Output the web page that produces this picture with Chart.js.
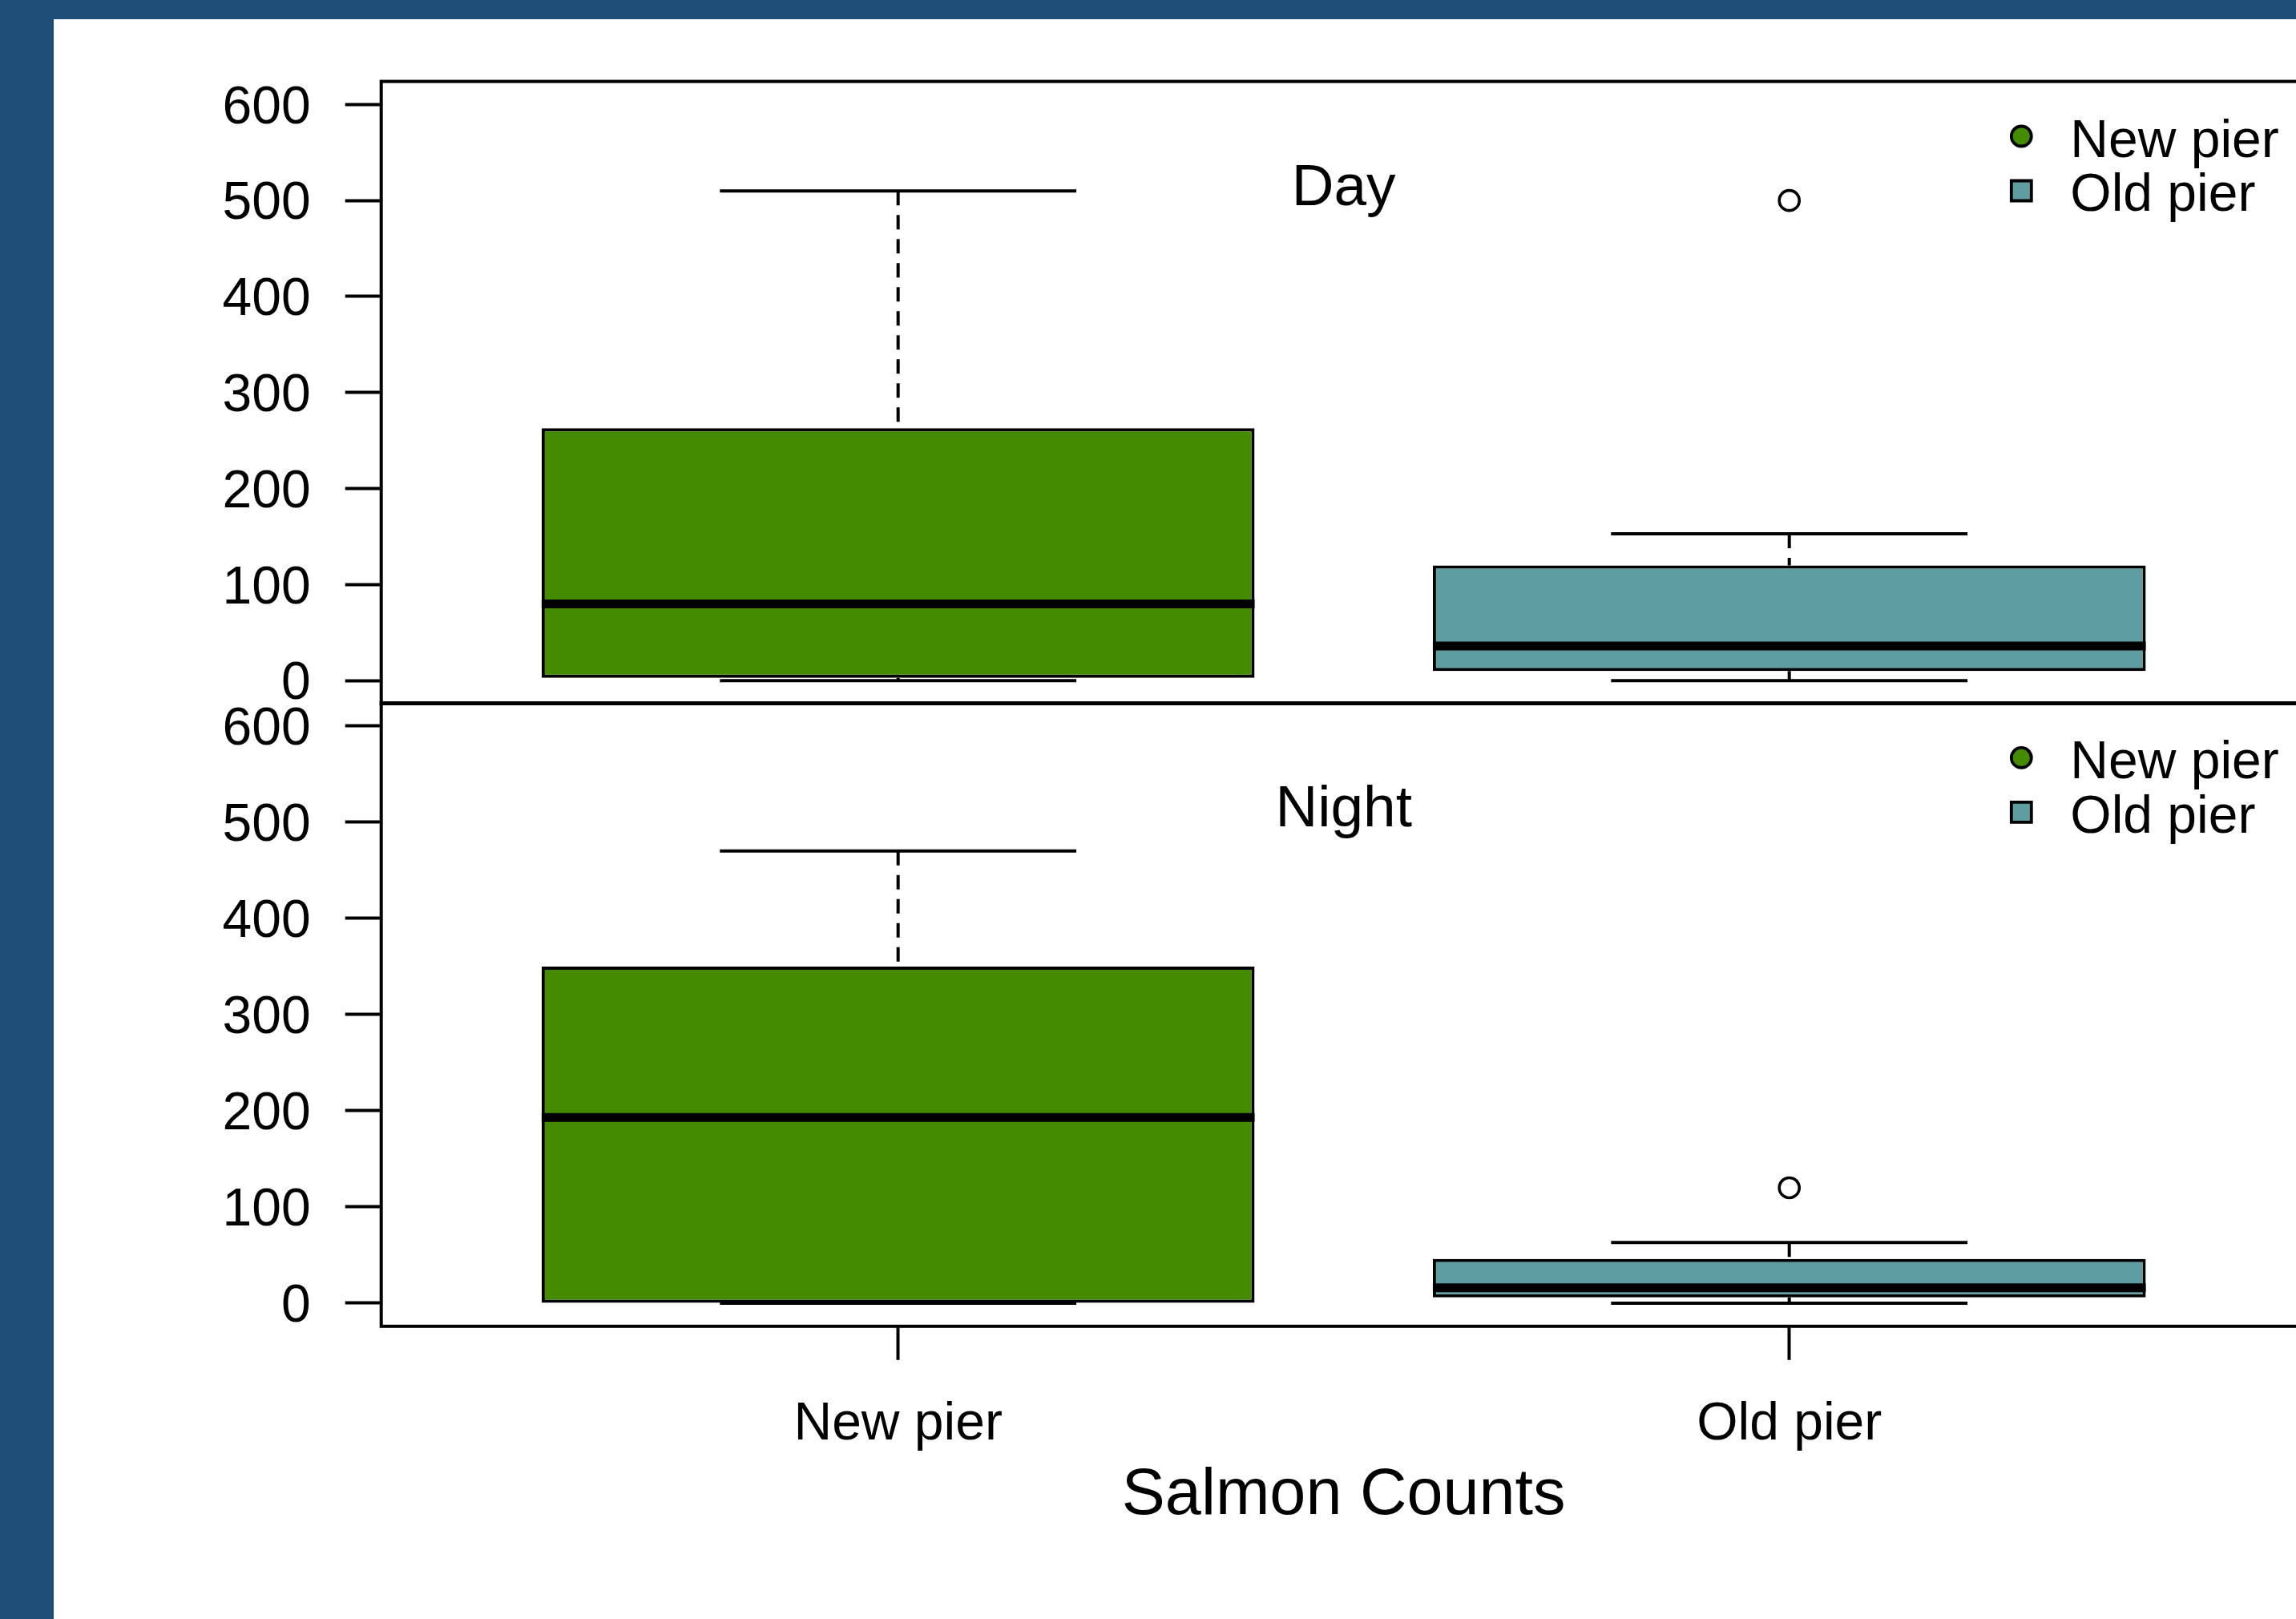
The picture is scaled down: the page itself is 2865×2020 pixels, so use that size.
<!DOCTYPE html>
<html><head><meta charset="utf-8">
<script src="https://cdn.jsdelivr.net/npm/chart.js@4.4.1/dist/chart.umd.min.js"></script>
<style>
html,body{margin:0;padding:0;background:#fff;width:2865px;height:2020px;overflow:hidden;position:relative}
#bandL{position:absolute;left:0;top:0;width:67px;height:2020px;background:#1F4E79}
#bandT{position:absolute;left:0;top:0;width:2865px;height:24px;background:#1F4E79}
canvas{position:absolute;left:0}
#cDay{top:0}
#cNight{top:790px}
</style></head><body>
<canvas id="cDay" width="2900" height="961"></canvas>
<canvas id="cNight" width="2900" height="1230"></canvas>
<div id="bandL"></div><div id="bandT"></div>
<script>
// ---- data ----
const categories = ['New pier', 'Old pier'];
const yTicks = [0, 100, 200, 300, 400, 500, 600];
const panelTitles = ['Day', 'Night'];
const xLabel = 'Salmon Counts';

const dayMin = [0, 0];
const dayQ1 = [3, 10];
const dayMedian = [80, 36];
const dayQ3 = [263, 120];
const dayMax = [510, 153];
const dayOutliers = [[], [500]];

const nightMin = [0, 0];
const nightQ1 = [0, 6];
const nightMedian = [193, 16];
const nightQ3 = [350, 46];
const nightMax = [470, 63];
const nightOutliers = [[], [120]];

// ---- style ----
const FONT = "'Liberation Sans', Arial, Helvetica, sans-serif";
Chart.defaults.font.family = FONT;
Chart.defaults.color = '#000';
const fills = ['#458B00', '#5F9EA0'];
const legendShapes = ['circle', 'rect'];
const BOX_W = 0.8, CAP_W = 0.4, LW = 4;

function buildDatasets(mn, q1, md, q3, mx, outl) {
  const xs = categories.map((_, i) => i + 1);
  const boxes = {
    type: 'bar', order: 4,
    data: xs.map((x, i) => ({x: x, y: [q1[i], q3[i]]})),
    backgroundColor: fills, borderColor: '#000', borderWidth: LW, borderSkipped: false,
    barPercentage: BOX_W, categoryPercentage: 1
  };
  const whiskerPts = [], capPts = [], medPts = [], outPts = [];
  xs.forEach((x, i) => {
    whiskerPts.push({x: x, y: mx[i]}, {x: x, y: q3[i]}, {x: x, y: null},
                    {x: x, y: mn[i]}, {x: x, y: q1[i]}, {x: x, y: null});
    capPts.push({x: x - CAP_W / 2, y: mx[i]}, {x: x + CAP_W / 2, y: mx[i]}, {x: x, y: null},
                {x: x - CAP_W / 2, y: mn[i]}, {x: x + CAP_W / 2, y: mn[i]}, {x: x, y: null});
    medPts.push({x: x - BOX_W / 2, y: md[i]}, {x: x + BOX_W / 2, y: md[i]}, {x: x, y: null});
    outl[i].forEach(v => outPts.push({x: x, y: v}));
  });
  const lineBase = {type: 'line', borderColor: '#000', pointRadius: 0, spanGaps: false, fill: false, borderCapStyle: 'butt', tension: 0};
  return [
    boxes,
    Object.assign({}, lineBase, {order: 3, data: whiskerPts, borderWidth: LW, borderDash: [18, 12]}),
    Object.assign({}, lineBase, {order: 2, data: capPts, borderWidth: LW}),
    Object.assign({}, lineBase, {order: 1, data: medPts, borderWidth: 11}),
    {type: 'line', order: 0, data: outPts, showLine: false, pointRadius: 12.5, pointBorderWidth: 3.6,
     pointBackgroundColor: 'rgba(0,0,0,0)', pointBorderColor: '#000', pointStyle: 'circle'}
  ];
}

const panelDecor = {
  id: 'panelDecor',
  afterDatasetsDraw(chart, args, opts) {
    const {ctx, chartArea: a} = chart;
    ctx.save();
    ctx.lineWidth = 4; ctx.strokeStyle = '#000';
    ctx.strokeRect(a.left, a.top, a.right - a.left, a.bottom - a.top);
    ctx.fillStyle = '#000';
    ctx.font = '73px ' + FONT;
    ctx.textAlign = 'center'; ctx.textBaseline = 'alphabetic';
    ctx.fillText(opts.title, (a.left + a.right) / 2, a.top + 154.4);
    ctx.font = '66px ' + FONT; ctx.textAlign = 'left';
    categories.forEach((c, i) => {
      const cx = a.right - 355.4, cy = a.top + 68.4 + i * 68;
      ctx.fillStyle = fills[i]; ctx.strokeStyle = '#000'; ctx.lineWidth = 3.8;
      ctx.beginPath();
      if (legendShapes[i] === 'circle') ctx.arc(cx, cy, 12.5, 0, Math.PI * 2);
      else ctx.rect(cx - 12.5, cy - 12.5, 25, 25);
      ctx.fill(); ctx.stroke();
      ctx.fillStyle = '#000';
      ctx.fillText(c, a.right - 294.4, a.top + 94.1 + i * 67.6);
    });
    ctx.restore();
  }
};

function makeChart(id, panelIdx, datasets, isBottom) {
  const xScale = {
    type: 'linear', min: 0.42, max: 2.58, offset: false, display: isBottom,
    afterBuildTicks: s => { s.ticks = categories.map((_, i) => ({value: i + 1})); },
    grid: {offset: false, drawOnChartArea: false, drawTicks: true, tickLength: 42, tickWidth: LW, tickColor: '#000'},
    border: {display: false},
    ticks: {autoSkip: false, maxRotation: 0, minRotation: 0, padding: 41, font: {size: 66}, callback: v => categories[v - 1]},
    title: {display: true, text: xLabel, font: {size: 81}, padding: {top: 0, bottom: 105}}
  };
  if (isBottom) xScale.afterFit = s => { s.height = 365.2; };
  return new Chart(document.getElementById(id), {
    type: 'bar',
    data: {datasets: datasets},
    options: {
      responsive: false, animation: false, devicePixelRatio: 1, events: [],
      layout: {padding: isBottom ? {top: 87, left: 0, right: 22.3, bottom: 0} : {top: 101.6, left: 0, right: 22.3, bottom: 83}},
      plugins: {legend: {display: false}, tooltip: {enabled: false}, panelDecor: {title: panelTitles[panelIdx]}},
      scales: {
        x: xScale,
        y: {
          type: 'linear', min: -24, max: 624,
          afterBuildTicks: s => { s.ticks = yTicks.map(v => ({value: v})); },
          afterFit: s => { s.width = 475.7; },
          grid: {offset: false, drawOnChartArea: false, drawTicks: true, tickLength: 45, tickWidth: LW, tickColor: '#000'},
          border: {display: false},
          ticks: {padding: 43, labelOffset: 5, font: {size: 66}, callback: v => String(v)}
        }
      }
    },
    plugins: [panelDecor]
  });
}

makeChart('cDay', 0, buildDatasets(dayMin, dayQ1, dayMedian, dayQ3, dayMax, dayOutliers), false);
makeChart('cNight', 1, buildDatasets(nightMin, nightQ1, nightMedian, nightQ3, nightMax, nightOutliers), true);
</script>
</body></html>
